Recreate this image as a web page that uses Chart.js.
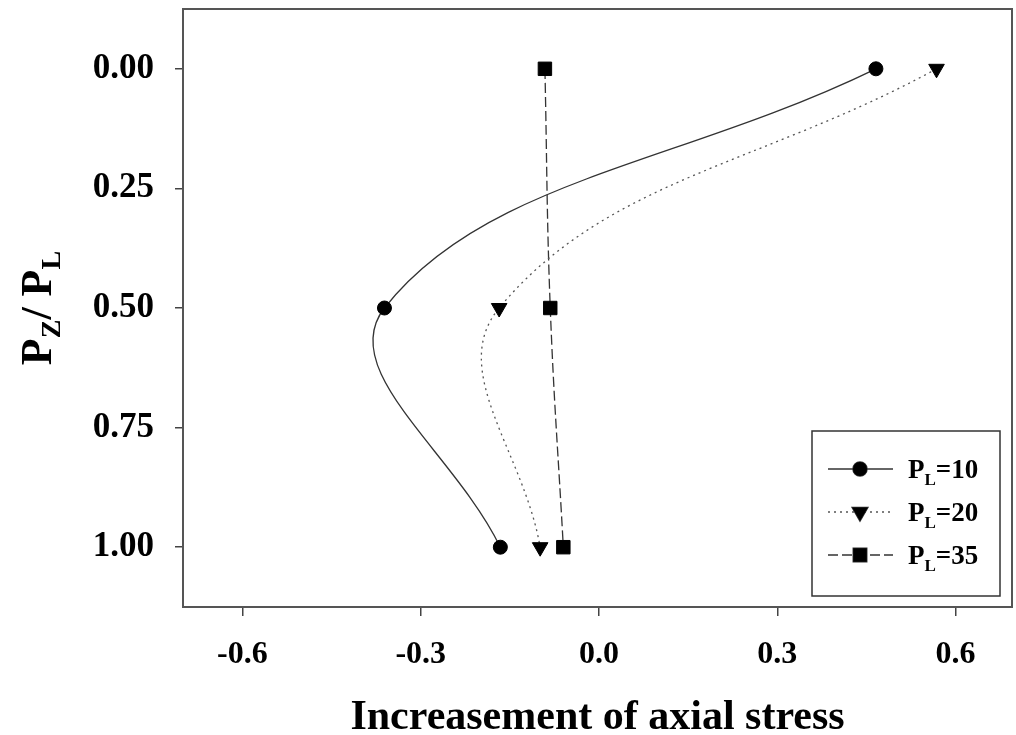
<!DOCTYPE html>
<html>
<head>
<meta charset="utf-8">
<script src="https://cdn.jsdelivr.net/npm/chart.js@4/dist/chart.umd.min.js"></script>
<style>
html,body{margin:0;padding:0;background:#fff;}
#wrap{width:1016px;height:735px;}
</style>
</head>
<body>
<div id="wrap"><canvas id="c" width="1016" height="735"></canvas></div>
<script>
// ---- data ----
const yLevels = [0, 0.5, 1.0];           // Pz/PL
const pl10 = [0.466, -0.361, -0.166];    // PL=10
const pl20 = [0.568, -0.168, -0.099];    // PL=20
const pl35 = [-0.091, -0.082, -0.060];   // PL=35
const seriesNames = ['10', '20', '35'];
const xTicks = [-0.6, -0.3, 0.0, 0.3, 0.6];
const yTicks = [0.00, 0.25, 0.50, 0.75, 1.00];
const xTitle = 'Increasement of axial stress';

const FONT = '"Liberation Serif", "Times New Roman", serif';

function pts(xs){ return xs.map((x,i)=>({x:x, y:yLevels[i]})); }

const styles = [
  {dash:[], color:'#333', pointStyle:'circle', r:7, rot:0},
  {dash:[2,4], color:'#555', pointStyle:'triangle', r:9, rot:180},
  {dash:[10,4], color:'#333', pointStyle:'rect', r:9.5, rot:0}
];
const allSeries = [pl10, pl20, pl35];

const datasets = allSeries.map((s,i)=>({
  label: 'PL=' + seriesNames[i],
  data: pts(s),
  showLine: true,
  tension: 0.4,
  borderColor: styles[i].color,
  borderWidth: 1.3,
  borderDash: styles[i].dash,
  pointStyle: styles[i].pointStyle,
  pointRadius: styles[i].r,
  pointRotation: styles[i].rot,
  pointBackgroundColor: '#000',
  pointBorderColor: '#000',
  pointBorderWidth: 1
}));

const framePlugin = {
  id: 'frame',
  afterDatasetsDraw(chart){
    const {ctx, chartArea:a} = chart;
    ctx.save();
    ctx.strokeStyle = '#555';
    ctx.lineWidth = 2;
    ctx.strokeRect(a.left, a.top, a.right - a.left, a.bottom - a.top);
    ctx.restore();
  },
  afterDraw(chart){
    const {ctx, chartArea:a} = chart;
    ctx.save();
    // y title with subscripts
    ctx.translate(37, (a.top + a.bottom)/2);
    ctx.rotate(-Math.PI/2);
    ctx.fillStyle = '#000';
    ctx.textBaseline = 'alphabetic';
    const big = 'bold 44px ' + FONT, small = 'bold 28px ' + FONT;
    const parts = [['P',big,0],['Z',small,9],['/ P',big,0],['L',small,9]];
    let w = 0;
    parts.forEach(p=>{ ctx.font = p[1]; w += ctx.measureText(p[0]).width; });
    let x = -w/2;
    parts.forEach(p=>{ ctx.font = p[1]; ctx.fillText(p[0], x, 14 + p[2]); x += ctx.measureText(p[0]).width; });
    ctx.restore();

    // legend
    ctx.save();
    const bx = 812, by = 431, bw = 188, bh = 165;
    ctx.strokeStyle = '#333'; ctx.lineWidth = 1.5;
    ctx.strokeRect(bx, by, bw, bh);
    const rows = [469, 512, 555];
    datasets.forEach((d,i)=>{
      const y = rows[i];
      ctx.save();
      ctx.strokeStyle = d.borderColor; ctx.lineWidth = 1.3;
      ctx.setLineDash(d.borderDash);
      ctx.beginPath(); ctx.moveTo(828, y); ctx.lineTo(893, y); ctx.stroke();
      ctx.restore();
      ctx.fillStyle = '#000';
      Chart.helpers.drawPoint(ctx, {pointStyle: d.pointStyle, rotation: d.pointRotation, radius: d.pointRadius, borderWidth: 1}, 860, y);
      ctx.fill();
      ctx.fillStyle = '#000';
      ctx.textBaseline = 'alphabetic';
      ctx.font = 'bold 27px ' + FONT;
      ctx.fillText('P', 908, y + 9);
      let px = 908 + ctx.measureText('P').width;
      ctx.font = 'bold 17px ' + FONT;
      ctx.fillText('L', px, y + 16);
      px += ctx.measureText('L').width;
      ctx.font = 'bold 27px ' + FONT;
      ctx.fillText('=' + seriesNames[i], px, y + 9);
    });
    ctx.restore();
  }
};

new Chart(document.getElementById('c'), {
  type: 'scatter',
  data: {datasets},
  options: {
    responsive: false,
    animation: false,
    layout: {autoPadding: false, padding: {top: 9, right: 4, left: 0, bottom: 0}},
    plugins: {legend: {display: false}, tooltip: {enabled: false}},
    scales: {
      x: {
        type: 'linear',
        min: -0.7, max: 0.695,
        afterBuildTicks(s){ s.ticks = xTicks.map(v=>({value:v})); },
        afterFit(s){ s.height = 128; s.paddingLeft = 0; s.paddingRight = 0; },
        grid: {drawOnChartArea: false, drawTicks: true, tickLength: 9, color: '#444', lineWidth: 1.5},
        border: {display: false},
        ticks: {
          padding: 20,
          color: '#000',
          font: {family: FONT, size: 32, weight: 'bold'},
          callback: v => v.toFixed(1)
        },
        title: {display: true, text: xTitle, color: '#000', padding: {top: 0, bottom: 0},
          font: {family: FONT, size: 42, weight: 'bold', lineHeight: 0.8}}
      },
      y: {
        type: 'linear',
        reverse: true,
        min: -0.125, max: 1.125,
        afterBuildTicks(s){ s.ticks = yTicks.map(v=>({value:v})); },
        afterFit(s){ s.width = 183; s.paddingTop = 0; s.paddingBottom = 0; },
        grid: {drawOnChartArea: false, drawTicks: true, tickLength: 8, color: '#444', lineWidth: 1.5},
        border: {display: false},
        ticks: {
          padding: 21,
          color: '#000',
          font: {family: FONT, size: 35, weight: 'bold'},
          callback: v => v.toFixed(2)
        }
      }
    }
  },
  plugins: [framePlugin]
});
</script>
</body>
</html>
